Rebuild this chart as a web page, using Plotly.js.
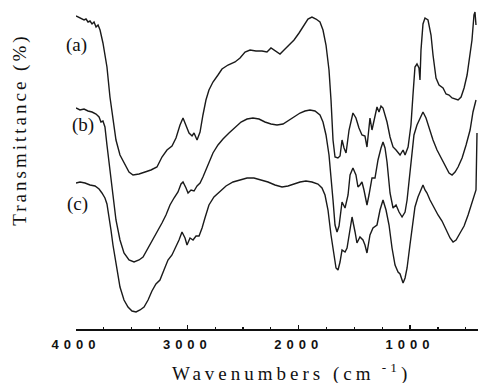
<!DOCTYPE html>
<html>
<head>
<meta charset="utf-8">
<script src="https://cdn.plot.ly/plotly-3.0.1.min.js"></script>
<style>
  html, body { margin: 0; padding: 0; background: #fff; }
  #chart { width: 478px; height: 383px; }
  .xtick text { letter-spacing: 5px; }
  .annotation[data-index="0"] text { letter-spacing: 4px; }
  .annotation[data-index="1"] text { letter-spacing: 3px; }
</style>
</head>
<body>
<div id="chart"></div>
<script>
// Wavenumber (cm-1) and transmittance (arbitrary offset units)
const wnA = [4000,3964,3928,3910,3892,3874,3856,3838,3820,3802,3784,3758,3740,3722,3695,3668,3641,3605,3560,3524,3488,3434,3380,3327,3273,3228,3183,3138,3102,3066,3039,3012,2985,2958,2940,2913,2886,2860,2833,2806,2770,2725,2689,2635,2572,2527,2482,2437,2384,2330,2285,2249,2204,2168,2132,2087,2042,1997,1953,1917,1881,1845,1809,1782,1755,1728,1710,1692,1674,1648,1629,1611,1593,1575,1548,1513,1486,1459,1432,1405,1387,1360,1342,1315,1297,1279,1261,1243,1225,1207,1180,1153,1126,1090,1063,1045,1018,992,974,956,938,920,911,902,884,866,839,812,794,767,740,704,677,650,623,596,569,542,515,488,461,444,426,417,408];
const tA  = [313,311,309,310,307,308,305,307,302,304,299,286,274,262,232,209,189,174,164,157,154,155,157,159,162,172,179,183,191,204,211,204,196,193,196,189,197,214,229,239,247,254,260,264,267,271,277,279,278,278,277,281,278,275,279,284,289,296,304,310,312,310,307,299,284,259,229,189,172,171,173,189,181,176,199,216,211,201,194,193,182,211,199,214,222,217,223,221,214,207,192,182,179,174,179,174,182,204,234,262,265,261,249,279,305,311,309,294,274,251,244,241,235,234,231,230,229,232,241,254,274,289,314,317,304];

const wnB = [4000,3964,3928,3892,3856,3820,3793,3776,3758,3740,3722,3704,3686,3668,3641,3605,3569,3524,3479,3434,3398,3362,3318,3273,3228,3192,3156,3120,3084,3057,3039,3012,2994,2967,2940,2913,2886,2860,2833,2806,2770,2725,2680,2626,2572,2518,2464,2411,2357,2303,2249,2195,2141,2087,2033,1988,1944,1899,1854,1809,1782,1755,1728,1710,1692,1674,1656,1638,1611,1584,1557,1539,1513,1486,1468,1450,1432,1414,1387,1369,1342,1315,1288,1261,1243,1225,1207,1180,1153,1126,1099,1072,1045,1027,1009,992,965,938,911,884,857,830,794,758,722,686,650,623,596,569,533,497,461,435,408];
const tB  = [221,219,220,218,217,215,212,207,208,202,184,169,154,134,109,89,76,69,67,69,72,79,89,97,106,114,124,131,137,145,147,141,136,139,138,143,146,152,159,167,176,184,190,196,202,207,210,211,210,207,205,204,205,209,213,216,218,219,218,214,207,194,174,154,129,104,97,103,127,121,134,154,161,154,142,144,147,139,124,134,151,151,169,181,187,181,167,136,121,124,117,112,117,129,149,169,194,204,211,217,211,201,189,179,171,163,156,154,157,162,171,184,199,217,229];

const wnC = [4000,3964,3919,3874,3829,3793,3767,3740,3722,3704,3686,3668,3650,3632,3605,3569,3533,3497,3461,3425,3389,3353,3318,3282,3246,3210,3174,3138,3102,3075,3048,3021,3003,2976,2949,2922,2895,2868,2842,2806,2761,2707,2653,2590,2527,2464,2402,2339,2276,2213,2150,2096,2042,1988,1935,1881,1827,1791,1764,1737,1710,1683,1665,1647,1629,1611,1584,1566,1539,1521,1494,1477,1450,1423,1405,1387,1360,1333,1297,1270,1243,1216,1189,1162,1135,1108,1090,1063,1045,1027,1001,983,956,929,902,884,866,848,821,785,749,713,677,641,614,587,551,515,479,452,426,408,399];
const tC  = [146,147,146,144,143,140,136,131,125,114,99,84,72,59,42,29,22,18,17,19,22,29,38,45,49,59,69,74,82,89,97,91,84,91,89,93,93,101,111,124,132,138,143,147,149,151,151,149,147,144,142,143,145,147,148,147,145,141,134,119,94,71,61,59,67,79,77,81,101,112,97,86,92,89,84,76,94,101,104,119,129,119,104,81,64,57,55,46,51,61,84,101,122,132,139,144,139,136,129,121,114,108,99,91,87,89,96,103,114,124,134,139,196];

const seriesLabels = ['(a)', '(b)', '(c)'];
const xTickVals = [4000, 3000, 2000, 1000];
const xTickText = ['4000', '3000', '2000', '1000'];

const lineStyle = { color: '#1a1a1a', width: 1.4 };
const traces = [
  { x: wnA, y: tA, mode: 'lines', line: lineStyle, hoverinfo: 'skip' },
  { x: wnB, y: tB, mode: 'lines', line: lineStyle, hoverinfo: 'skip' },
  { x: wnC, y: tC, mode: 'lines', line: lineStyle, hoverinfo: 'skip' }
];

const serif = 'Liberation Serif, Times New Roman, serif';
const layout = {
  width: 478, height: 383,
  margin: { l: 76, r: 0, t: 5, b: 54 },
  paper_bgcolor: '#fff', plot_bgcolor: '#fff',
  showlegend: false,
  xaxis: {
    range: [4000, 390],
    showgrid: false, zeroline: false,
    showline: true, linecolor: '#111', linewidth: 1.5,
    ticks: 'inside', ticklen: 4, tickwidth: 1.3, tickcolor: '#111',
    tickvals: xTickVals, ticktext: xTickText,
    ticklabelstandoff: 3,
    minor: { dtick: 250, tick0: 0, ticks: 'inside', ticklen: 2.5, tickwidth: 1.2, tickcolor: '#111', showgrid: false },
    tickfont: { family: 'Liberation Sans, Arial, sans-serif', size: 13, color: '#111', weight: 'bold' }
  },
  yaxis: { range: [0, 324], visible: false, fixedrange: true },
  annotations: [
    { text: 'Wavenumbers (cm<sup> -1</sup>)', xref: 'paper', yref: 'paper', x: 0.537, y: -0.133,
      xanchor: 'center', yanchor: 'middle', showarrow: false,
      font: { family: serif, size: 19, color: '#111' } },
    { text: 'Transmittance (%)', xref: 'paper', yref: 'paper', x: -0.139, y: 0.614,
      xanchor: 'center', yanchor: 'middle', showarrow: false, textangle: -90,
      font: { family: serif, size: 19, color: '#111' } },
    { text: seriesLabels[0], xref: 'paper', yref: 'paper', x: 0.0, y: 0.877,
      xanchor: 'center', yanchor: 'middle', showarrow: false,
      font: { family: serif, size: 19, color: '#111' } },
    { text: seriesLabels[1], xref: 'paper', yref: 'paper', x: 0.0174, y: 0.630,
      xanchor: 'center', yanchor: 'middle', showarrow: false,
      font: { family: serif, size: 19, color: '#111' } },
    { text: seriesLabels[2], xref: 'paper', yref: 'paper', x: 0.0025, y: 0.386,
      xanchor: 'center', yanchor: 'middle', showarrow: false,
      font: { family: serif, size: 19, color: '#111' } }
  ]
};

Plotly.newPlot('chart', traces, layout, { staticPlot: true, displayModeBar: false });
</script>
</body>
</html>
